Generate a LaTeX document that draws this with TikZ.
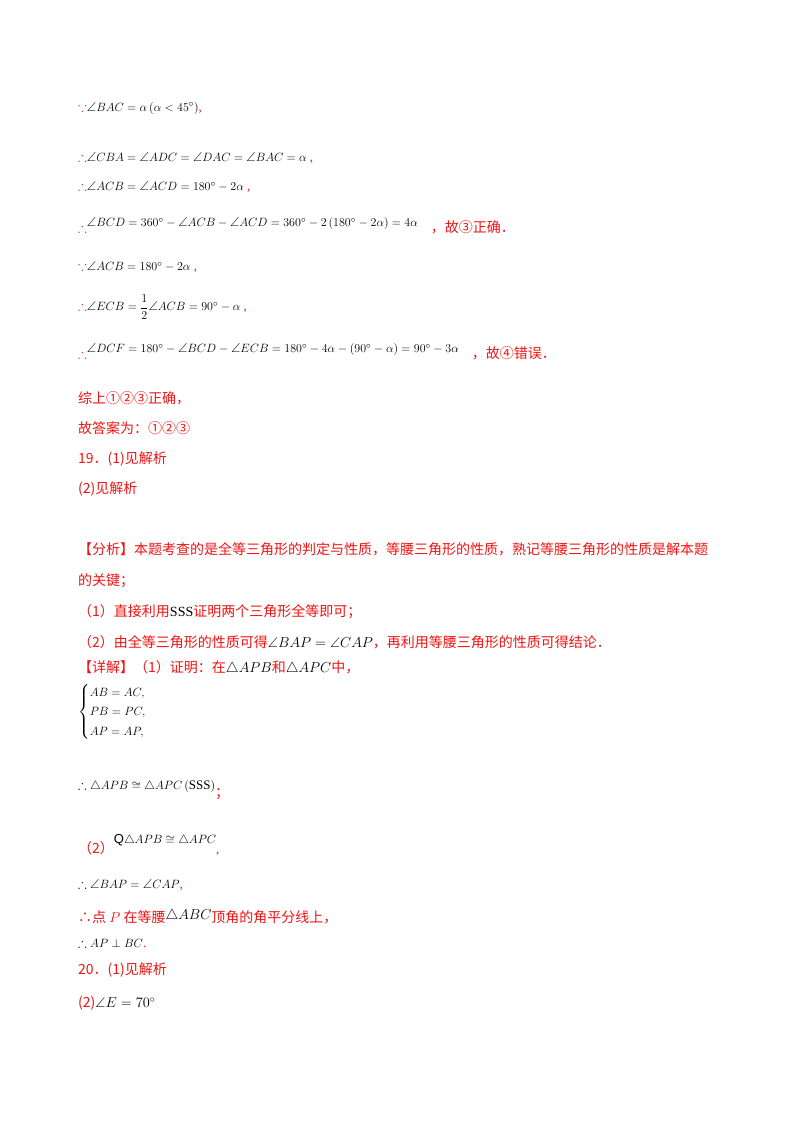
\documentclass[tikz,border=0pt]{standalone}
\usepackage{amsmath,amssymb}
\usepackage{fontspec}
\setmainfont{Liberation Serif}
\newfontfamily\cjk{Noto Sans CJK SC}
\definecolor{rd}{RGB}{240,20,20}
\newcommand{\zh}[1]{{\cjk #1}}
\newcommand{\zb}[1]{{\fontsize{14}{17}\selectfont\cjk #1}}
\begin{document}
\begin{tikzpicture}[x=1pt,y=-1pt,
  ln/.style={anchor=west,inner sep=0pt,font=\fontsize{13}{16}\selectfont},
  rl/.style={anchor=west,inner sep=0pt,font=\fontsize{14}{17}\selectfont,text=rd}]
\useasboundingbox (0,0) rectangle (800,1132);
\fill[white] (0,0) rectangle (800,1132);
\node[ln] (l1) at (78,108) {\textcolor{rd}{$\because$}$\angle BAC=\alpha\left(\alpha<45^\circ\right)$\textcolor{rd}{,}};
\node[ln] (l2) at (78,158) {\textcolor{rd}{$\therefore$}$\angle CBA=\angle ADC=\angle DAC=\angle BAC=\alpha$ \textcolor{rd}{,}};
\node[ln] (l3) at (78,187) {\textcolor{rd}{$\therefore$}$\angle ACB=\angle ACD=180^\circ-2\alpha$ \textcolor{rd}{,}};
\node[ln] (l4) at (78,226) {\textcolor{rd}{$\therefore$}\raisebox{6pt}{$\angle BCD=360^\circ-\angle ACB-\angle ACD=360^\circ-2\left(180^\circ-2\alpha\right)=4\alpha$}\quad\textcolor{rd}{\zb{，故③正确．}}};
\node[ln] (l5) at (78,267) {\textcolor{rd}{$\because$}$\angle ACB=180^\circ-2\alpha$ \textcolor{rd}{,}};
\node[ln] (l6) at (78,307) {\textcolor{rd}{$\therefore$}$\angle ECB=\dfrac12\angle ACB=90^\circ-\alpha$ \textcolor{rd}{,}};
\node[ln] (l7) at (78,352) {\textcolor{rd}{$\therefore$}\raisebox{6pt}{$\angle DCF=180^\circ-\angle BCD-\angle ECB=180^\circ-4\alpha-\left(90^\circ-\alpha\right)=90^\circ-3\alpha$}\quad\textcolor{rd}{\zb{，故④错误．}}};
\node[rl] (l8) at (78,398) {\zh{综上①②③正确，}};
\node[rl] (l9) at (78,428) {\zh{故答案为：①②③}};
\node[rl] (l10) at (78,459) {\zh{19．(1)见解析}};
\node[rl] (l11) at (78,489) {\zh{(2)见解析}};
\node[rl] (l12) at (78,549) {\zh{【分析】本题考查的是全等三角形的判定与性质，等腰三角形的性质，熟记等腰三角形的性质是解本题}};
\node[rl] (l13) at (78,581) {\zh{的关键；}};
\node[rl] (l14) at (78,612) {\zh{（1）直接利用}\textcolor{black}{SSS}\zh{证明两个三角形全等即可；}};
\node[rl] (l15) at (78,642) {\zh{（2）由全等三角形的性质可得}\textcolor{black}{$\angle BAP=\angle CAP$}\zh{，再利用等腰三角形的性质可得结论．}};
\node[rl] (l16) at (78,668) {\zh{【详解】（1）证明：在}\textcolor{black}{$\triangle APB$}\zh{和}\textcolor{black}{$\triangle APC$}\zh{中，}};
\node[ln,anchor=north west] (l17) at (78,683) {\renewcommand{\arraystretch}{1.55}$\begin{cases}AB=AC,\\ PB=PC,\\ AP=AP,\end{cases}$};
\node[ln] (l18) at (78,790) {$\therefore\triangle APB\cong\triangle APC\left(\mathrm{SSS}\right)$\raisebox{-8pt}{\textcolor{rd}{\zb{；}}}};
\node[ln] (l19) at (78,845) {\textcolor{rd}{\zb{（2）}}\raisebox{10pt}{\fontspec{Liberation Sans}Q$\triangle APB\cong\triangle APC$}\textcolor{rd}{,}};
\node[ln] (l20) at (78,885) {$\therefore\angle BAP=\angle CAP$\textcolor{rd}{,}};
\node[rl] (l21) at (78,917) {\zh{∴点 }$P$\zh{ 在等腰}\textcolor{black}{\raisebox{3pt}{$\triangle ABC$}}\zh{顶角的角平分线上，}};
\node[ln] (l22) at (78,943) {$\therefore AP\perp BC$\textcolor{rd}{.}};
\node[rl] (l23) at (78,970) {\zh{20．(1)见解析}};
\node[rl] (l24) at (78,1003) {\zh{(2)}\textcolor{black}{$\angle E=70^\circ$}};
\end{tikzpicture}
\end{document}
